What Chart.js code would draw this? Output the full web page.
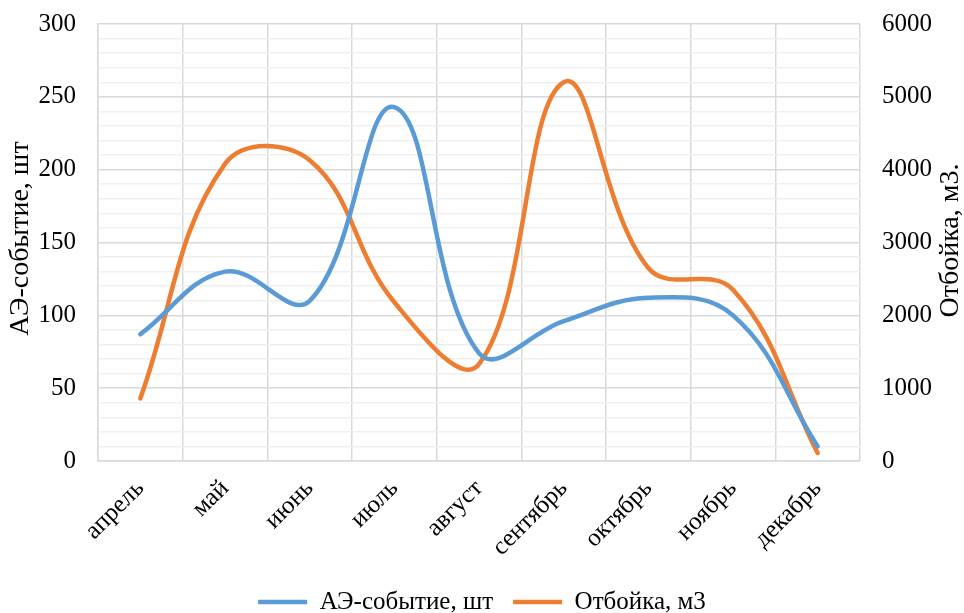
<!DOCTYPE html>
<html>
<head>
<meta charset="utf-8">
<script src="https://cdn.jsdelivr.net/npm/chart.js@4.4.1/dist/chart.umd.min.js"></script>
<style>
  html, body { margin: 0; padding: 0; background: #ffffff; }
  #wrap { width: 964px; height: 613px; }
</style>
</head>
<body>
<div id="wrap"><canvas id="c" width="964" height="613"></canvas></div>
<script>
const categories = ['апрель', 'май', 'июнь', 'июль', 'август', 'сентябрь', 'октябрь', 'ноябрь', 'декабрь'];
const aeEvents = [87, 130, 110, 243, 74, 96, 112, 100, 10];
const otboika = [860, 4080, 4130, 2180, 1330, 5200, 2650, 2350, 110];
const leftTitle = 'АЭ-событие, шт';
const rightTitle = 'Отбойка, м3.';
const seriesNames = ['АЭ-событие, шт', 'Отбойка, м3'];

const FONT = "'Liberation Serif', 'Times New Roman', serif";
const PLOT_BOTTOM = 461;
const LEGEND_CENTER_Y = 602;

const axisTitles = {
  id: 'axisTitles',
  afterLayout(chart) {
    const L = chart.legend;
    if (L) {
      const fs = 25;
      const pad = L.options.labels.padding;
      const newTop = LEGEND_CENTER_Y - fs / 2 - pad;
      const h = L.bottom - L.top;
      L.top = newTop;
      L.bottom = newTop + h;
    }
  },
  afterDraw(chart) {
    const ctx = chart.ctx;
    const ca = chart.chartArea;
    const cy = (ca.top + ca.bottom) / 2;
    ctx.save();
    ctx.fillStyle = '#000000';
    ctx.font = '28px ' + FONT;
    ctx.textAlign = 'center';
    ctx.textBaseline = 'middle';
    ctx.translate(21, cy - 4);
    ctx.rotate(-Math.PI / 2);
    ctx.fillText(leftTitle, 0, 0);
    ctx.restore();
    ctx.save();
    ctx.fillStyle = '#000000';
    ctx.font = '28px ' + FONT;
    ctx.textAlign = 'center';
    ctx.textBaseline = 'middle';
    ctx.translate(951, cy - 2);
    ctx.rotate(-Math.PI / 2);
    ctx.fillText(rightTitle, 0, 0);
    ctx.restore();
  }
};

function noVerticalPadding(scale, w) {
  scale.width = w;
  scale.paddingTop = 0;
  scale.paddingBottom = 0;
}

new Chart(document.getElementById('c'), {
  type: 'line',
  data: {
    labels: categories,
    datasets: [
      {
        label: seriesNames[0],
        data: aeEvents,
        yAxisID: 'y',
        borderColor: '#5B9BD5',
        backgroundColor: '#5B9BD5',
        borderWidth: 4.5,
        borderCapStyle: 'round',
        pointRadius: 0,
        tension: 0.4,
        fill: false
      },
      {
        label: seriesNames[1],
        data: otboika,
        yAxisID: 'y1',
        borderColor: '#ED7D31',
        backgroundColor: '#ED7D31',
        borderWidth: 4.5,
        borderCapStyle: 'round',
        pointRadius: 0,
        tension: 0.4,
        fill: false
      }
    ]
  },
  options: {
    responsive: false,
    animation: false,
    layout: { padding: { top: 24, left: 0, right: 0, bottom: 0 } },
    plugins: {
      legend: {
        position: 'bottom',
        labels: {
          font: { family: FONT, size: 25 },
          color: '#000000',
          usePointStyle: true,
          pointStyle: 'line',
          pointStyleWidth: 49,
          padding: 20
        }
      },
      tooltip: { enabled: false }
    },
    scales: {
      x: {
        offset: true,
        grid: { display: true, offset: true, color: '#d9d9d9', lineWidth: 1.5, drawTicks: false },
        border: { display: true, color: '#d9d9d9', width: 1.5 },
        ticks: {
          font: { family: FONT, size: 25 },
          color: '#000000',
          maxRotation: 45,
          minRotation: 45,
          padding: 13,
          autoSkip: false
        },
        afterFit(scale) {
          const lh = scale.chart.legend ? scale.chart.legend.height : 40;
          scale.height = 613 - PLOT_BOTTOM - lh;
        }
      },
      y: {
        position: 'left',
        min: 0,
        max: 300,
        grid: {
          color: (c) => (c.tick && c.tick.value % 50 === 0) ? '#d9d9d9' : '#efefef',
          lineWidth: 1.5,
          drawTicks: false
        },
        border: { display: true, color: '#d9d9d9', width: 1.5 },
        ticks: {
          stepSize: 10,
          autoSkip: false,
          font: { family: FONT, size: 25 },
          color: '#000000',
          padding: 22,
          callback: (v) => (v % 50 === 0 ? String(v) : '')
        },
        afterFit(scale) { noVerticalPadding(scale, 98); }
      },
      y1: {
        position: 'right',
        min: 0,
        max: 6000,
        grid: { display: false, drawTicks: false },
        border: { display: false },
        ticks: {
          stepSize: 1000,
          font: { family: FONT, size: 25 },
          color: '#000000',
          padding: 22,
          callback: (v) => String(v)
        },
        afterFit(scale) { noVerticalPadding(scale, 104); }
      }
    }
  },
  plugins: [axisTitles]
});
</script>
</body>
</html>
